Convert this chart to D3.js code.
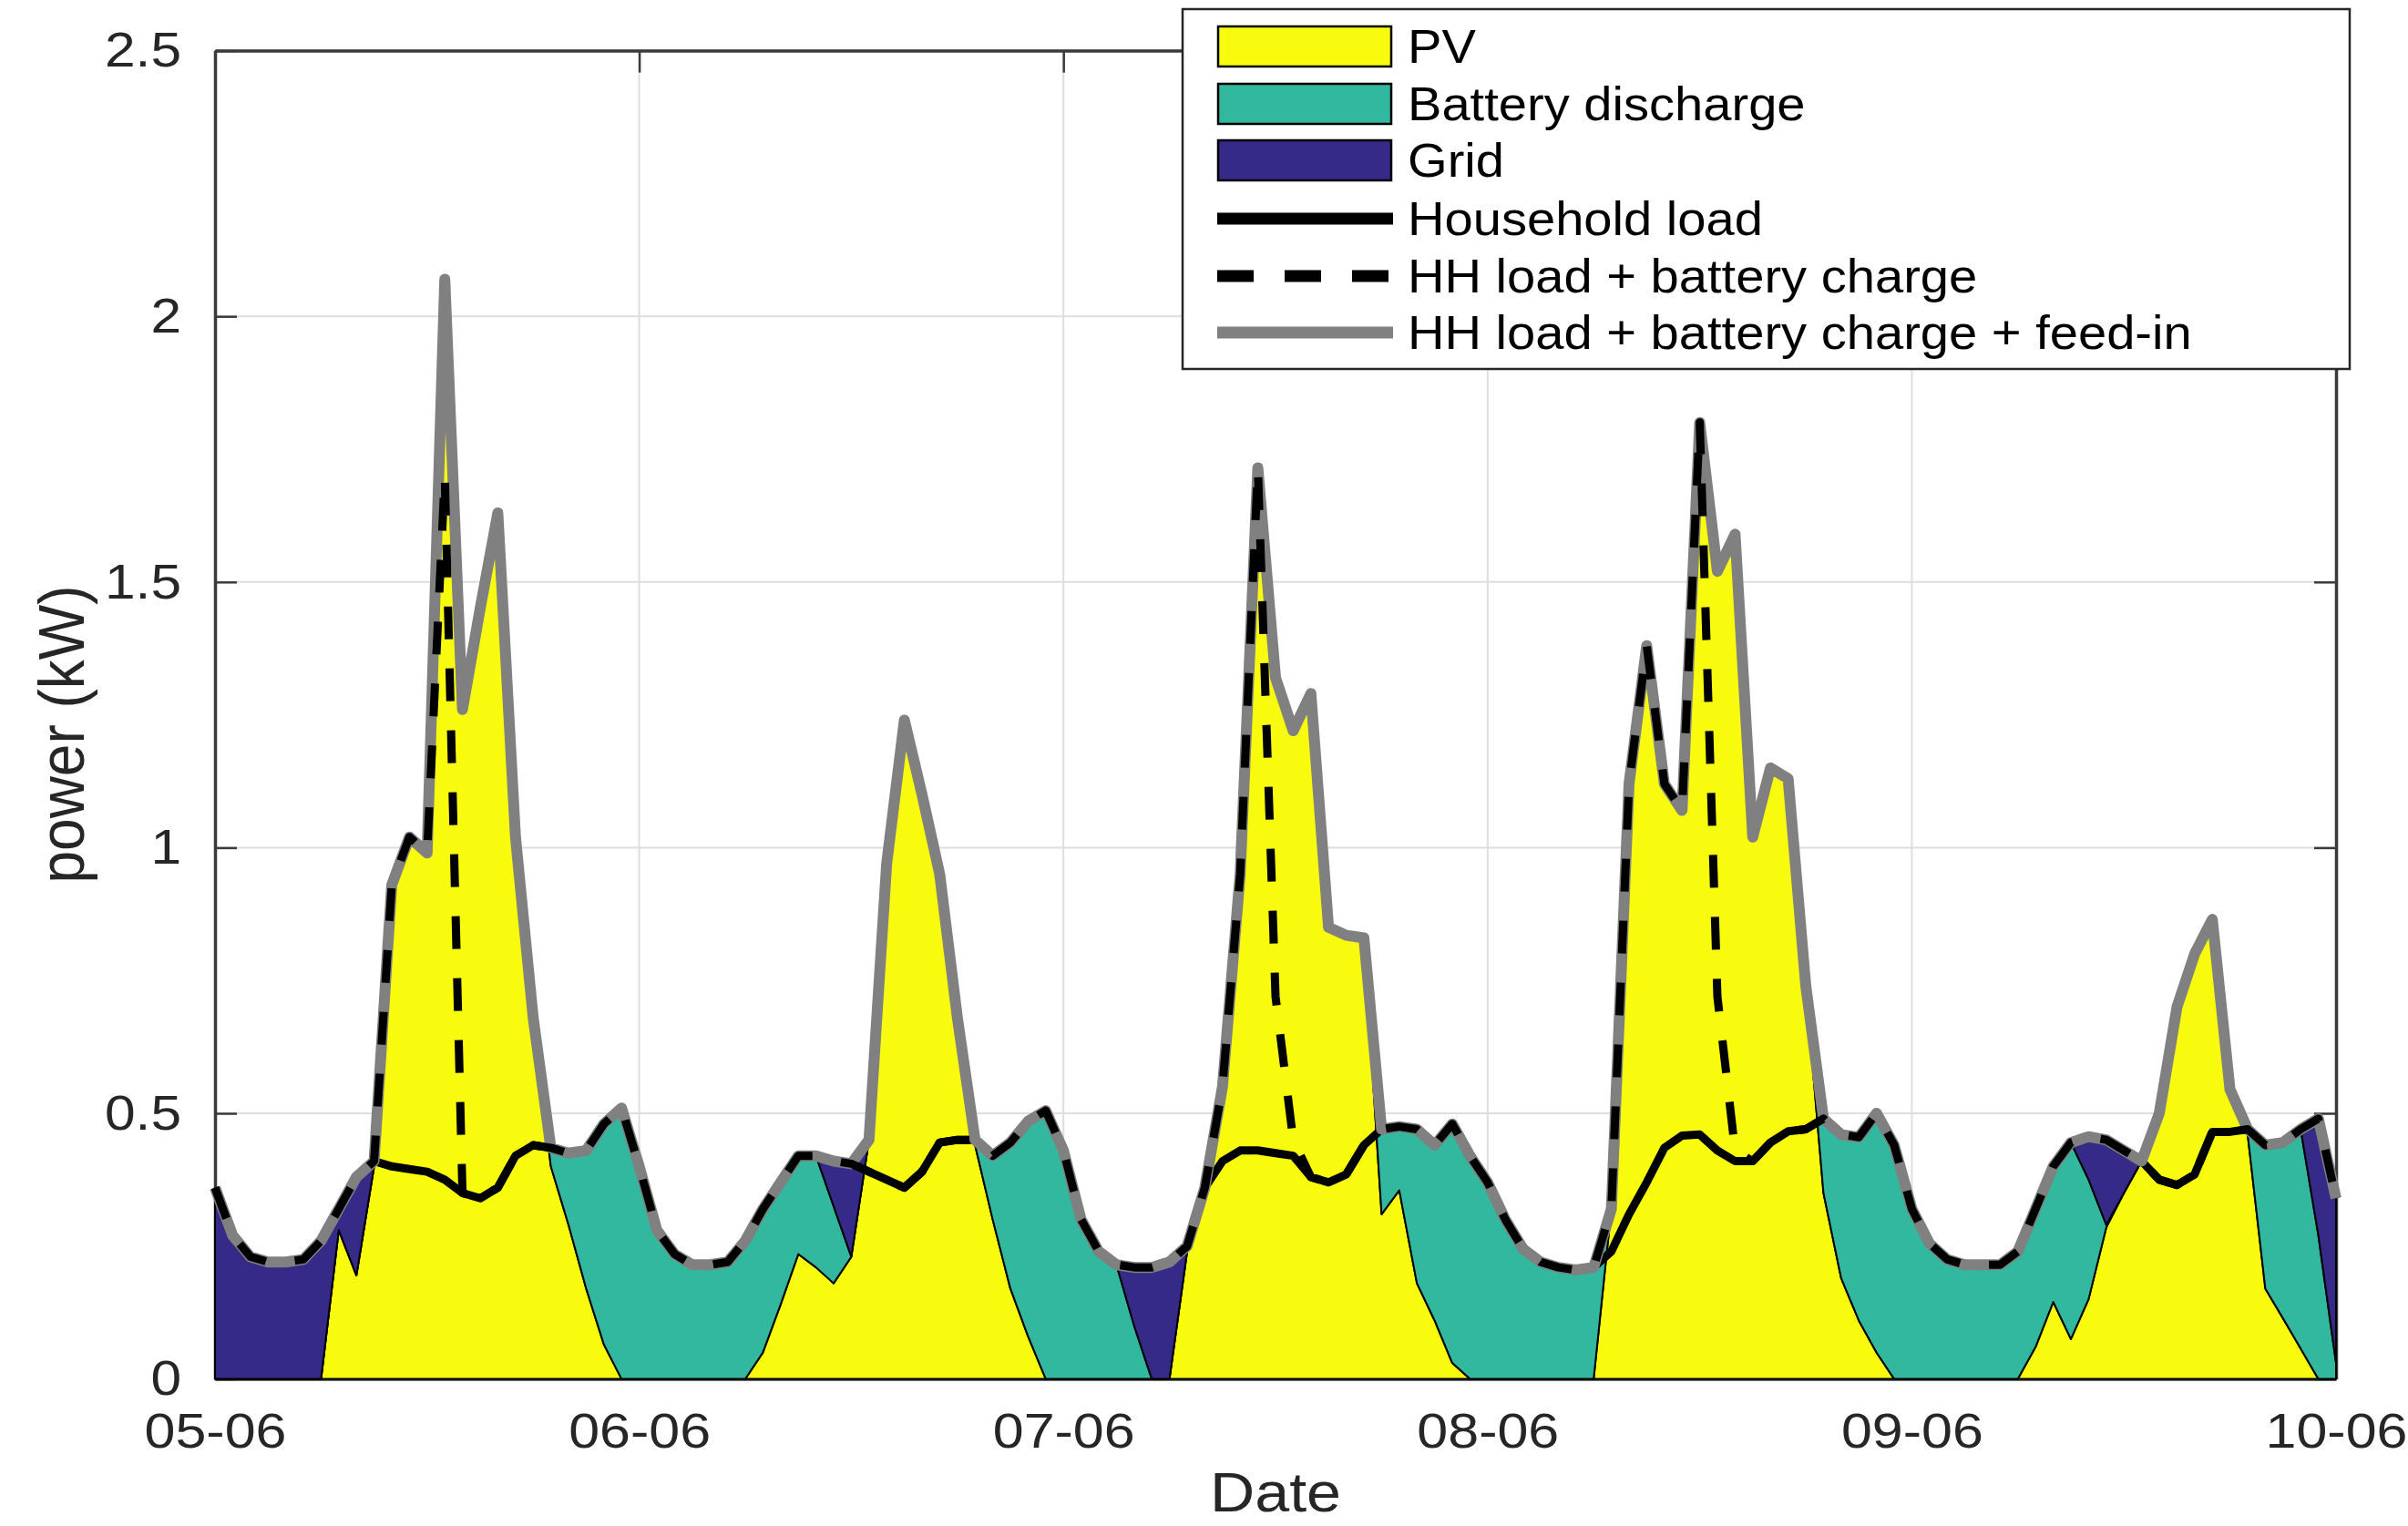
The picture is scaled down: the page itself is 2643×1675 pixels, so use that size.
<!DOCTYPE html>
<html><head><meta charset="utf-8">
<script src="https://cdn.jsdelivr.net/npm/d3@7"></script>
<style>body{margin:0;background:#fff} svg{display:block}</style>
</head><body><svg id="chart" width="2643" height="1675"></svg>
<script>
// x tick labels (one per day, hourly data from 05-06 00:00 to 10-06 00:00)
const dayLabels = ["05-06","06-06","07-06","08-06","09-06","10-06"];
const dayTickHours = [0,24,48,72,96,120];
const yTicks = [0,0.5,1,1.5,2,2.5];
const seriesNames = ["PV","Battery discharge","Grid","Household load","HH load + battery charge","HH load + battery charge + feed-in"];

// stacked supply (kW), hourly
const pv = [
0,0,0,0,0,0,0,0.28,0.195,0.40,
0.93,1.02,0.99,2.07,1.26,1.45,1.63,1.02,0.68,0.40,
0.29,0.17,0.065,0,0,0,0,0,0,0,
0,0.05,0.14,0.235,0.21,0.18,0.23,0.45,0.97,1.24,
1.10,0.95,0.68,0.44,0.30,0.17,0.08,0,0,0,
0,0,0,0,0,0.24,0.36,0.55,0.95,1.715,
1.32,1.22,1.29,0.85,0.835,0.83,0.31,0.355,0.18,0.11,
0.03,0,0,0,0,0,0,0,0,0.32,
1.12,1.38,1.12,1.07,1.80,1.52,1.59,1.02,1.15,1.13,
0.74,0.35,0.19,0.11,0.05,0,0,0,0,0,
0,0,0,0.06,0.145,0.075,0.15,0.285,0.35,0.41,
0.50,0.70,0.80,0.865,0.545,0.46,0.17,0.114,0.057,0,
0];
const discharge = [
0,0,0,0,0,0,0,0,0,0,
0,0,0,0,0,0,0,0,0,0.035,
0.135,0.26,0.415,0.51,0.40,0.28,0.235,0.215,0.215,0.22,
0.26,0.27,0.23,0.185,0.21,0.145,0,0,0,0,
0,0,0,0.01,0.12,0.275,0.405,0.505,0.43,0.30,
0.24,0.215,0.10,0,0,0,0,0,0,0,
0,0,0,0,0,0,0.16,0.12,0.29,0.33,
0.45,0.42,0.37,0.30,0.245,0.22,0.21,0.205,0.21,0,
0,0,0,0,0,0,0,0,0,0,
0,0.14,0.27,0.345,0.45,0.44,0.32,0.255,0.225,0.215,
0.215,0.215,0.24,0.26,0.255,0.37,0.225,0.005,0,0,
0,0,0,0,0,0.01,0.27,0.331,0.413,0.27,
0.03];
const grid = [
0.36,0.27,0.23,0.22,0.22,0.225,0.26,0.04,0.185,0.01,
0,0,0,0,0,0,0,0,0,0,
0,0,0,0,0,0,0,0,0,0,
0,0,0,0,0,0.085,0.175,0,0,0,
0,0,0,0,0,0,0,0,0,0,
0,0,0.11,0.21,0.22,0.01,0,0,0,0,
0,0,0,0,0,0,0,0,0,0,
0,0,0,0,0,0,0,0,0,0,
0,0,0,0,0,0,0,0,0,0,
0,0,0,0,0,0,0,0,0,0,
0,0,0,0,0,0,0.081,0.16,0.08,0,
0,0,0,0,0,0,0,0,0,0.22,
0.31];
// demand side (kW), hourly
const householdLoad = [
0.36,0.27,0.23,0.22,0.22,0.225,0.26,0.32,0.38,0.41,
0.40,0.395,0.39,0.375,0.35,0.34,0.36,0.42,0.44,0.435,
0.425,0.43,0.48,0.51,0.40,0.28,0.235,0.215,0.215,0.22,
0.26,0.32,0.37,0.42,0.42,0.41,0.405,0.39,0.375,0.36,
0.39,0.445,0.45,0.45,0.42,0.445,0.485,0.505,0.43,0.30,
0.24,0.215,0.21,0.21,0.22,0.25,0.36,0.41,0.43,0.43,
0.425,0.42,0.38,0.37,0.385,0.44,0.47,0.475,0.47,0.44,
0.48,0.42,0.37,0.30,0.245,0.22,0.21,0.205,0.21,0.24,
0.31,0.37,0.435,0.458,0.46,0.43,0.41,0.41,0.445,0.466,
0.47,0.49,0.46,0.455,0.50,0.44,0.32,0.255,0.225,0.215,
0.215,0.215,0.24,0.32,0.40,0.445,0.456,0.45,0.43,0.41,
0.375,0.365,0.385,0.465,0.465,0.47,0.44,0.445,0.47,0.49,
0.34];
const batteryCharge = [
0,0,0,0,0,0,0,0,0,0,
0.53,0.625,0.60,1.325,0,0,0,0,0,0,
0,0,0,0,0,0,0,0,0,0,
0,0,0,0,0,0,0,0,0,0,
0,0,0,0,0,0,0,0,0,0,
0,0,0,0,0,0,0,0.14,0.52,1.285,
0.295,0.03,0,0,0,0,0,0,0,0,
0,0,0,0,0,0,0,0,0,0.08,
0.81,1.01,0.685,0.612,1.34,0.29,0.02,0,0,0,
0,0,0,0,0,0,0,0,0,0,
0,0,0,0,0,0,0,0,0,0,
0,0,0,0,0,0,0,0,0,0,
0];

const colors = {pv:"#f9fb0e", discharge:"#33b8a0", grid:"#352a87"};
const FONT = "'Liberation Sans', Arial, Helvetica, sans-serif";
const TXT = "#262626";

const svg = d3.select("#chart");
const P = {left:236, right:2564, top:55.6, bottom:1513.6};
const x = d3.scaleLinear().domain([0,120]).range([P.left,P.right]);
const y = d3.scaleLinear().domain([0,2.5]).range([P.bottom,P.top]);

const rows = pv.map((v,h)=>({h, pv:pv[h], discharge:discharge[h], grid:grid[h],
  load:householdLoad[h], charge:batteryCharge[h]}));
const stacked = d3.stack().keys(["pv","discharge","grid"])(rows);

// grid lines
const gGrid = svg.append("g");
gGrid.selectAll("line.v").data(dayTickHours).join("line")
  .attr("x1",d=>x(d)).attr("x2",d=>x(d)).attr("y1",P.top).attr("y2",P.bottom)
  .attr("stroke","#dedede").attr("stroke-width",2);
gGrid.selectAll("line.h").data(yTicks).join("line")
  .attr("x1",P.left).attr("x2",P.right).attr("y1",d=>y(d)).attr("y2",d=>y(d))
  .attr("stroke","#dedede").attr("stroke-width",2);

// axes (drawn under data, like MATLAB Layer=bottom)
const axisColor = "#3a3a3a";
function styleAxis(g){
  g.select(".domain").attr("stroke",axisColor).attr("stroke-width",3.5);
  g.selectAll(".tick line").attr("stroke",axisColor).attr("stroke-width",2.5);
  g.selectAll("text").attr("fill",TXT).style("font-family",FONT);
}
const gL = svg.append("g").attr("transform",`translate(${P.left},0)`)
  .call(d3.axisLeft(y).tickValues(yTicks).tickFormat(d=>String(d)).tickSize(-24).tickSizeOuter(0).tickPadding(33));
styleAxis(gL);
gL.selectAll("text").style("font-size","54px").attr("transform","scale(1.12,1)");
const gR = svg.append("g").attr("transform",`translate(${P.right},0)`)
  .call(d3.axisRight(y).tickValues(yTicks).tickFormat("").tickSize(-24).tickSizeOuter(0));
styleAxis(gR);
const gB = svg.append("g").attr("transform",`translate(0,${P.bottom})`)
  .call(d3.axisBottom(x).tickValues(dayTickHours).tickFormat((d,i)=>dayLabels[i]).tickSize(-24).tickSizeOuter(0).tickPadding(38));
styleAxis(gB);
gB.selectAll("text").style("font-size","53px").attr("transform","scale(1.15,1)");
const gT = svg.append("g").attr("transform",`translate(0,${P.top})`)
  .call(d3.axisTop(x).tickValues(dayTickHours).tickFormat("").tickSize(-24).tickSizeOuter(0));
styleAxis(gT);

// stacked areas
const area = d3.area().x(d=>x(d.data.h)).y0(d=>y(d[0])).y1(d=>y(d[1]));
svg.append("g").selectAll("path").data(stacked).join("path")
  .attr("d",area).attr("fill",d=>colors[d.key])
  .attr("stroke","#000").attr("stroke-width",2).attr("stroke-linejoin","round");

// lines
const lineLoad = d3.line().x(d=>x(d.h)).y(d=>y(d.load));
const lineCharge = d3.line().x(d=>x(d.h)).y(d=>y(d.load + d.charge));
const lineTotal = d3.line().x(d=>x(d.h)).y(d=>y(d.pv + d.discharge + d.grid));
svg.append("path").datum(rows).attr("d",lineLoad).attr("fill","none")
  .attr("stroke","#000").attr("stroke-width",9).attr("stroke-linejoin","round");
svg.append("path").datum(rows).attr("d",lineTotal).attr("fill","none")
  .attr("stroke","#808080").attr("stroke-width",12).attr("stroke-linejoin","round");
svg.append("path").datum(rows).attr("d",lineCharge).attr("fill","none")
  .attr("stroke","#000").attr("stroke-width",9).attr("stroke-linejoin","round")
  .attr("stroke-dasharray","36,32");

// axis labels
svg.append("text").attr("transform","translate(1400,1659) scale(1.1,1)")
  .attr("text-anchor","middle").style("font-family",FONT).style("font-size","62px")
  .attr("fill",TXT).text("Date");
svg.append("text").attr("transform","translate(92,806) rotate(-90) scale(1,1.1)")
  .attr("text-anchor","middle").style("font-family",FONT).style("font-size","64px")
  .attr("fill",TXT).text("power (kW)");

// legend
const lg = svg.append("g");
lg.append("rect").attr("x",1298).attr("y",10).attr("width",1281).attr("height",395)
  .attr("fill","#fff").attr("stroke","#262626").attr("stroke-width",2.5);
const rowY = [51,114,176,240,303,365];
const legendItems = seriesNames.map((name,i)=>({name, cy:rowY[i], i}));
const patchKeys = ["pv","discharge","grid"];
legendItems.forEach(it=>{
  if(it.i<3){
    lg.append("rect").attr("x",1337).attr("y",it.cy-22).attr("width",190).attr("height",44)
      .attr("fill",colors[patchKeys[it.i]]).attr("stroke","#000").attr("stroke-width",2.5);
  } else {
    const ln = lg.append("line").attr("x1",1336).attr("x2",1529).attr("y1",it.cy).attr("y2",it.cy)
      .attr("stroke-width",13);
    if(it.i===3) ln.attr("stroke","#000");
    if(it.i===4) ln.attr("stroke","#000").attr("stroke-dasharray","40,34");
    if(it.i===5) ln.attr("stroke","#808080");
  }
  lg.append("text").attr("transform",`translate(1545,${it.cy}) scale(1.1,1)`)
    .attr("dy","0.36em").style("font-family",FONT).style("font-size","51px")
    .attr("fill","#000").text(it.name);
});
</script></body></html>
